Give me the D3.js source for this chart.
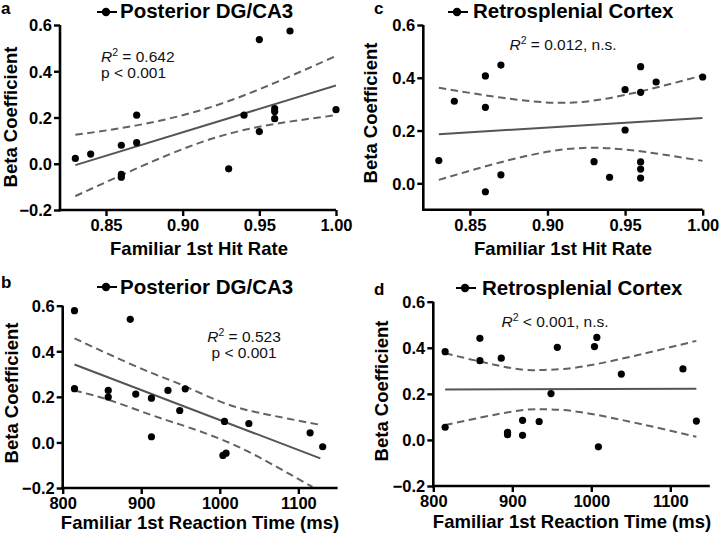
<!DOCTYPE html>
<html>
<head>
<meta charset="utf-8">
<script src="https://cdn.jsdelivr.net/npm/d3@7"></script>
<style>
  html, body { margin: 0; padding: 0; background: #fff; }
  svg { display: block; font-family: "Liberation Sans", Arial, Helvetica, sans-serif; }
</style>
</head>
<body>
<svg id="chart" width="720" height="539"></svg>
<script>
// ---------------- DATA ----------------
const hitTicks = [0.85, 0.90, 0.95, 1.00];
const rtTicks = [800, 900, 1000, 1100];
const betaTicksFull = [-0.2, 0.0, 0.2, 0.4, 0.6];
const betaTicksC = [0.0, 0.2, 0.4, 0.6];

// Panel a: Posterior DG/CA3 vs hit rate
const aX = [0.83, 0.84, 0.86, 0.86, 0.86, 0.87, 0.87, 0.93, 0.94, 0.95, 0.95, 0.96, 0.96, 0.96, 0.97, 1.00];
const aY = [0.023, 0.042, 0.080, -0.046, -0.058, 0.210, 0.091, -0.022, 0.210, 0.537, 0.139, 0.238, 0.226, 0.195, 0.574, 0.234];
const aFitX = [0.83, 1.00];
const aFitY = [-0.006, 0.339];
const aCiX = [0.83, 0.87, 0.91, 0.95, 1.00];
const aCiUpper = [0.125, 0.166, 0.228, 0.322, 0.466];
const aCiLower = [-0.140, -0.020, 0.088, 0.160, 0.210];

// Panel c: Retrosplenial Cortex vs hit rate
const cX = [0.83, 0.84, 0.86, 0.86, 0.86, 0.87, 0.87, 0.93, 0.94, 0.95, 0.95, 0.96, 0.96, 0.96, 0.96, 0.96, 0.97, 1.00];
const cY = [0.086, 0.311, 0.407, 0.288, -0.032, 0.448, 0.032, 0.082, 0.023, 0.355, 0.202, 0.442, 0.345, 0.081, 0.054, 0.020, 0.384, 0.403];
const cFitX = [0.83, 1.00];
const cFitY = [0.186, 0.248];
const cCiX = [0.83, 0.87, 0.91, 0.95, 1.00];
const cCiUpper = [0.362, 0.325, 0.305, 0.335, 0.409];
const cCiLower = [0.013, 0.080, 0.128, 0.128, 0.085];

// Panel b: Posterior DG/CA3 vs reaction time
const bX = [815, 815, 858, 858, 886, 893, 913, 913, 934, 949, 956, 1004, 1008, 1006, 1037, 1115, 1131];
const bY = [0.578, 0.236, 0.228, 0.199, 0.540, 0.212, 0.194, 0.025, 0.228, 0.140, 0.235, -0.057, -0.047, 0.092, 0.083, 0.042, -0.019];
const bFitX = [815, 1128];
const bFitY = [0.342, -0.070];
const bUpperX = [815, 860, 913, 950, 1000, 1050, 1130];
const bCiUpper = [0.457, 0.385, 0.305, 0.255, 0.180, 0.130, 0.076];
const bLowerX = [815, 860, 913, 950, 1000, 1050, 1118];
const bCiLower = [0.228, 0.185, 0.120, 0.078, 0.016, -0.065, -0.195];

// Panel d: Retrosplenial Cortex vs reaction time
const dX = [815, 815, 859, 859, 886, 894, 894, 913, 913, 934, 949, 957, 1004, 1007, 1009, 1038, 1116, 1133];
const dY = [0.383, 0.055, 0.441, 0.344, 0.355, 0.033, 0.023, 0.085, 0.020, 0.080, 0.201, 0.402, 0.405, 0.445, -0.030, 0.286, 0.308, 0.082];
const dFitX = [815, 1133];
const dFitY = [0.219, 0.222];
const dCiX = [815, 900, 940, 1000, 1133];
const dCiUpper = [0.376, 0.311, 0.304, 0.325, 0.430];
const dCiLower = [0.065, 0.123, 0.133, 0.113, 0.014];

// ---------------- DRAW ----------------
const svg = d3.select("#chart");
const FONT = '"Liberation Sans", Arial, Helvetica, sans-serif';

function zip(xs, ys) { return xs.map((x, i) => [x, ys[i]]); }

function panel(cfg) {
  const g = svg.append("g");
  const x = d3.scaleLinear().domain(cfg.xDomain).range(cfg.xRange);
  const y = d3.scaleLinear().domain(cfg.yDomain).range(cfg.yRange);

  const clipId = "clip-" + cfg.id;
  svg.append("clipPath").attr("id", clipId).append("rect")
    .attr("x", cfg.xRange[0]).attr("y", cfg.yRange[1])
    .attr("width", cfg.xRange[1] - cfg.xRange[0])
    .attr("height", cfg.yRange[0] - cfg.yRange[1]);

  const plot = g.append("g").attr("clip-path", `url(#${clipId})`);
  const line = d3.line().x(d => x(d[0])).y(d => y(d[1]));
  const curve = d3.line().x(d => x(d[0])).y(d => y(d[1])).curve(d3.curveNatural);

  plot.append("path").datum(zip(cfg.upperX, cfg.upper))
    .attr("d", curve).attr("fill", "none").attr("stroke", "#626262")
    .attr("stroke-width", 2).attr("stroke-dasharray", "7.5,4.5");
  plot.append("path").datum(zip(cfg.lowerX, cfg.lower))
    .attr("d", curve).attr("fill", "none").attr("stroke", "#626262")
    .attr("stroke-width", 2).attr("stroke-dasharray", "7.5,4.5");
  plot.append("path").datum(zip(cfg.fitX, cfg.fitY))
    .attr("d", line).attr("fill", "none").attr("stroke", "#555")
    .attr("stroke-width", 2);

  g.append("g").selectAll("circle").data(zip(cfg.px, cfg.py)).join("circle")
    .attr("cx", d => x(d[0])).attr("cy", d => y(d[1])).attr("r", 3.6)
    .attr("fill", "#000");

  const xAxis = d3.axisBottom(x).tickValues(cfg.xTicks).tickFormat(cfg.xFmt)
    .tickSizeInner(6).tickSizeOuter(0).tickPadding(3);
  const yAxis = d3.axisLeft(y).tickValues(cfg.yTicks).tickFormat(d3.format(".1f"))
    .tickSizeInner(6).tickSizeOuter(0).tickPadding(2);

  const gx = g.append("g").attr("transform", `translate(0,${cfg.yRange[0]})`).call(xAxis);
  const gy = g.append("g").attr("transform", `translate(${cfg.xRange[0]},0)`).call(yAxis);
  [gx, gy].forEach(ax => {
    ax.select(".domain").attr("stroke", "#000").attr("stroke-width", 2.6);
    ax.selectAll(".tick line").attr("stroke", "#000").attr("stroke-width", 2.4);
    ax.selectAll(".tick text").attr("font-family", FONT).attr("font-weight", "bold")
      .attr("font-size", 16.5).attr("fill", "#000");
  });
  gy.selectAll(".tick text").attr("dy", "0.36em");
  gx.selectAll(".tick text").attr("dy", "0.75em");
  gx.select(".domain").attr("d", `M${cfg.xRange[0] - 1.3},0H${cfg.xRange[1]}`);
  gy.select(".domain").attr("d", `M0,${cfg.yRange[0] + 1.3}V${cfg.yRange[1]}`);

  g.append("text").attr("x", cfg.xTitlePos[0]).attr("y", cfg.xTitlePos[1])
    .attr("text-anchor", "middle").attr("font-weight", "bold").attr("font-size", 18.5)
    .attr("font-family", FONT).text(cfg.xTitle);
  g.append("text").attr("transform", `translate(${cfg.yTitlePos[0]},${cfg.yTitlePos[1]}) rotate(-90)`)
    .attr("text-anchor", "middle").attr("font-weight", "bold").attr("font-size", 18.5)
    .attr("font-family", FONT).text("Beta Coefficient");

  g.append("text").attr("x", cfg.letterPos[0]).attr("y", cfg.letterPos[1])
    .attr("font-weight", "bold").attr("font-size", 17).attr("font-family", FONT).text(cfg.letter);

  const [lx, ly] = cfg.legendPos;
  g.append("line").attr("x1", lx).attr("x2", lx + 20).attr("y1", ly).attr("y2", ly)
    .attr("stroke", "#000").attr("stroke-width", 2);
  g.append("circle").attr("cx", lx + 9).attr("cy", ly).attr("r", 4.2).attr("fill", "#000");
  g.append("text").attr("x", cfg.titlePos[0]).attr("y", cfg.titlePos[1])
    .attr("font-weight", "bold").attr("font-size", 20.5).attr("font-family", FONT).text(cfg.title);

  cfg.notes.forEach(n => {
    const t = g.append("text").attr("x", n.x).attr("y", n.y).attr("font-size", 15.5)
      .attr("font-family", FONT).attr("text-anchor", n.anchor).attr("fill", "#111");
    if (n.r2) {
      t.append("tspan").attr("font-style", "italic").text("R");
      t.append("tspan").attr("font-size", 10.5).attr("dy", -6).text("2");
      t.append("tspan").attr("dy", 6).text(n.text);
    } else {
      t.text(n.text);
    }
  });
}

const hitFmt = d3.format(".2f");
const rtFmt = d3.format("d");

panel({
  id: "a", letter: "a", letterPos: [1, 14],
  title: "Posterior DG/CA3", titlePos: [120, 18], legendPos: [97, 12],
  xDomain: [0.82, 1.00], xRange: [60, 336], yDomain: [-0.2, 0.6], yRange: [210, 25],
  xTicks: hitTicks, xFmt: hitFmt, yTicks: betaTicksFull,
  px: aX, py: aY, fitX: aFitX, fitY: aFitY,
  upperX: aCiX, upper: aCiUpper, lowerX: aCiX, lower: aCiLower,
  xTitle: "Familiar 1st Hit Rate", xTitlePos: [199, 255], yTitlePos: [17, 117],
  notes: [
    { x: 101, y: 62, anchor: "start", r2: true, text: " = 0.642" },
    { x: 101, y: 78, anchor: "start", text: "p < 0.001" }
  ]
});

panel({
  id: "c", letter: "c", letterPos: [374, 14],
  title: "Retrosplenial Cortex", titlePos: [473, 18], legendPos: [448, 12],
  xDomain: [0.82, 1.00], xRange: [423.3, 702.7], yDomain: [-0.1, 0.6], yRange: [209.7, 25],
  xTicks: hitTicks, xFmt: hitFmt, yTicks: betaTicksC,
  px: cX, py: cY, fitX: cFitX, fitY: cFitY,
  upperX: cCiX, upper: cCiUpper, lowerX: cCiX, lower: cCiLower,
  xTitle: "Familiar 1st Hit Rate", xTitlePos: [563, 255], yTitlePos: [377, 113],
  notes: [
    { x: 563, y: 49.5, anchor: "middle", r2: true, text: " = 0.012, n.s." }
  ]
});

panel({
  id: "b", letter: "b", letterPos: [1, 288],
  title: "Posterior DG/CA3", titlePos: [120, 294], legendPos: [97, 287],
  xDomain: [800, 1150], xRange: [62.7, 337.6], yDomain: [-0.2, 0.6], yRange: [488, 305.7],
  xTicks: rtTicks, xFmt: rtFmt, yTicks: betaTicksFull,
  px: bX, py: bY, fitX: bFitX, fitY: bFitY,
  upperX: bUpperX, upper: bCiUpper, lowerX: bLowerX, lower: bCiLower,
  xTitle: "Familiar 1st Reaction Time (ms)", xTitlePos: [200, 529], yTitlePos: [18, 393],
  notes: [
    { x: 244, y: 342, anchor: "middle", r2: true, text: " = 0.523" },
    { x: 244, y: 357.5, anchor: "middle", text: "p < 0.001" }
  ]
});

panel({
  id: "d", letter: "d", letterPos: [374, 295],
  title: "Retrosplenial Cortex", titlePos: [482, 295], legendPos: [456, 288],
  xDomain: [800, 1150], xRange: [433.3, 709.8], yDomain: [-0.2, 0.6], yRange: [486, 301.7],
  xTicks: rtTicks, xFmt: rtFmt, yTicks: betaTicksFull,
  px: dX, py: dY, fitX: dFitX, fitY: dFitY,
  upperX: dCiX, upper: dCiUpper, lowerX: dCiX, lower: dCiLower,
  xTitle: "Familiar 1st Reaction Time (ms)", xTitlePos: [572, 528], yTitlePos: [388, 391],
  notes: [
    { x: 555, y: 327, anchor: "middle", r2: true, text: " < 0.001, n.s." }
  ]
});
</script>
</body>
</html>
